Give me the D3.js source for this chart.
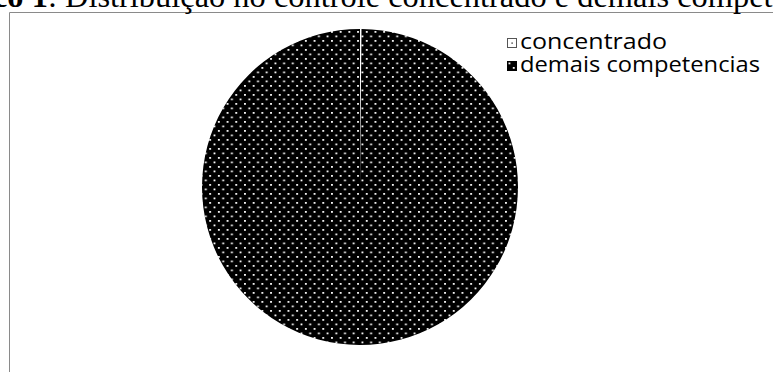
<!DOCTYPE html>
<html>
<head>
<meta charset="utf-8">
<script src="https://cdn.jsdelivr.net/npm/d3@7"></script>
<style>
  html, body { margin: 0; padding: 0; background: #fff; overflow: hidden; }
  svg { display: block; }
</style>
</head>
<body>
<svg id="chart" width="773" height="372"></svg>
<script>
// data
const categories = ['concentrado', 'demais competencias'];
const values = [0.15, 99.85];
const titleBold = 'Gráfico 1';
const titleRest = ': Distribuição no controle concentrado e demais competências';

const width = 773, height = 372;
const svg = d3.select('#chart');

// patterns
const defs = svg.append('defs');
const dark = defs.append('pattern')
    .attr('id', 'pat-dark')
    .attr('patternUnits', 'userSpaceOnUse')
    .attr('width', 8.7).attr('height', 9);
dark.append('rect').attr('width', 8.7).attr('height', 9).attr('fill', '#000');
dark.append('rect').attr('x', 1.5).attr('y', 1.5).attr('width', 1.8).attr('height', 1.8).attr('fill', '#fff');
dark.append('rect').attr('x', 5.85).attr('y', 6).attr('width', 1.8).attr('height', 1.8).attr('fill', '#fff');

const light = defs.append('pattern')
    .attr('id', 'pat-light')
    .attr('patternUnits', 'userSpaceOnUse')
    .attr('width', 8.7).attr('height', 9);
light.append('rect').attr('width', 8.7).attr('height', 9).attr('fill', '#fff');
light.append('rect').attr('x', 4).attr('y', 4).attr('width', 1.2).attr('height', 1.2).attr('fill', '#000');

const fills = ['url(#pat-light)', 'url(#pat-dark)'];

// frame
svg.append('path')
    .attr('d', `M9.5,${height + 5}V12.5H${width + 5}`)
    .attr('fill', 'none')
    .attr('stroke', '#8a8a8a')
    .attr('stroke-width', 1);

// title (cropped at the top of the picture)
const title = svg.append('text')
    .attr('y', 7)
    .attr('font-family', '"Liberation Serif", "Times New Roman", serif')
    .attr('font-size', 24)
    .attr('fill', '#000');
title.append('tspan').attr('font-weight', 'bold').text(titleBold);
title.append('tspan').text(titleRest);

// fit: "Distribuição ... compet" runs from x=65 to the right edge
const full = titleBold + titleRest;
const iD = full.indexOf('Distribuição');
const iEnd = full.indexOf('compet', full.indexOf('demais')) + 6;
const seg = title.node().getSubStringLength(iD, iEnd - iD);
const fs = 24 * 708 / seg;
title.attr('font-size', fs);
const off = title.node().getSubStringLength(0, iD);
title.attr('x', 65 - off);

// pie
const cx = 360, cy = 187, r = 158;
const pie = d3.pie().sort(null).value(d => d)(values);
const arc = d3.arc().innerRadius(0).outerRadius(r);

svg.append('g')
    .attr('transform', `translate(${cx},${cy})`)
    .selectAll('path')
    .data(pie)
    .enter().append('path')
    .attr('d', arc)
    .attr('fill', (d, i) => fills[i])
    .attr('stroke', (d, i) => i === 0 ? '#fff' : 'none')
    .attr('stroke-width', 0.8);

// legend
const textWidths = [147, 240];
const legend = svg.append('g').attr('transform', 'translate(507,38)');
const rows = legend.selectAll('g')
    .data(categories)
    .enter().append('g')
    .attr('transform', (d, i) => `translate(0,${i * 23})`);

rows.append('rect')
    .attr('x', 0.5).attr('y', 0.5)
    .attr('width', 9).attr('height', 9)
    .attr('fill', (d, i) => i === 0 ? '#fff' : 'url(#pat-dark)')
    .attr('stroke', (d, i) => i === 0 ? '#555' : '#000')
    .attr('stroke-width', 1);
rows.filter((d, i) => i === 0).append('rect')
    .attr('x', 4.5).attr('y', 4.5).attr('width', 1.2).attr('height', 1.2).attr('fill', '#000');

rows.append('text')
    .attr('x', 13)
    .attr('y', 11)
    .attr('font-family', '"Open Sans", sans-serif')
    .attr('font-size', 21)
    .attr('fill', '#000')
    .attr('textLength', (d, i) => textWidths[i])
    .attr('lengthAdjust', 'spacingAndGlyphs')
    .text(d => d);
</script>
</body>
</html>
